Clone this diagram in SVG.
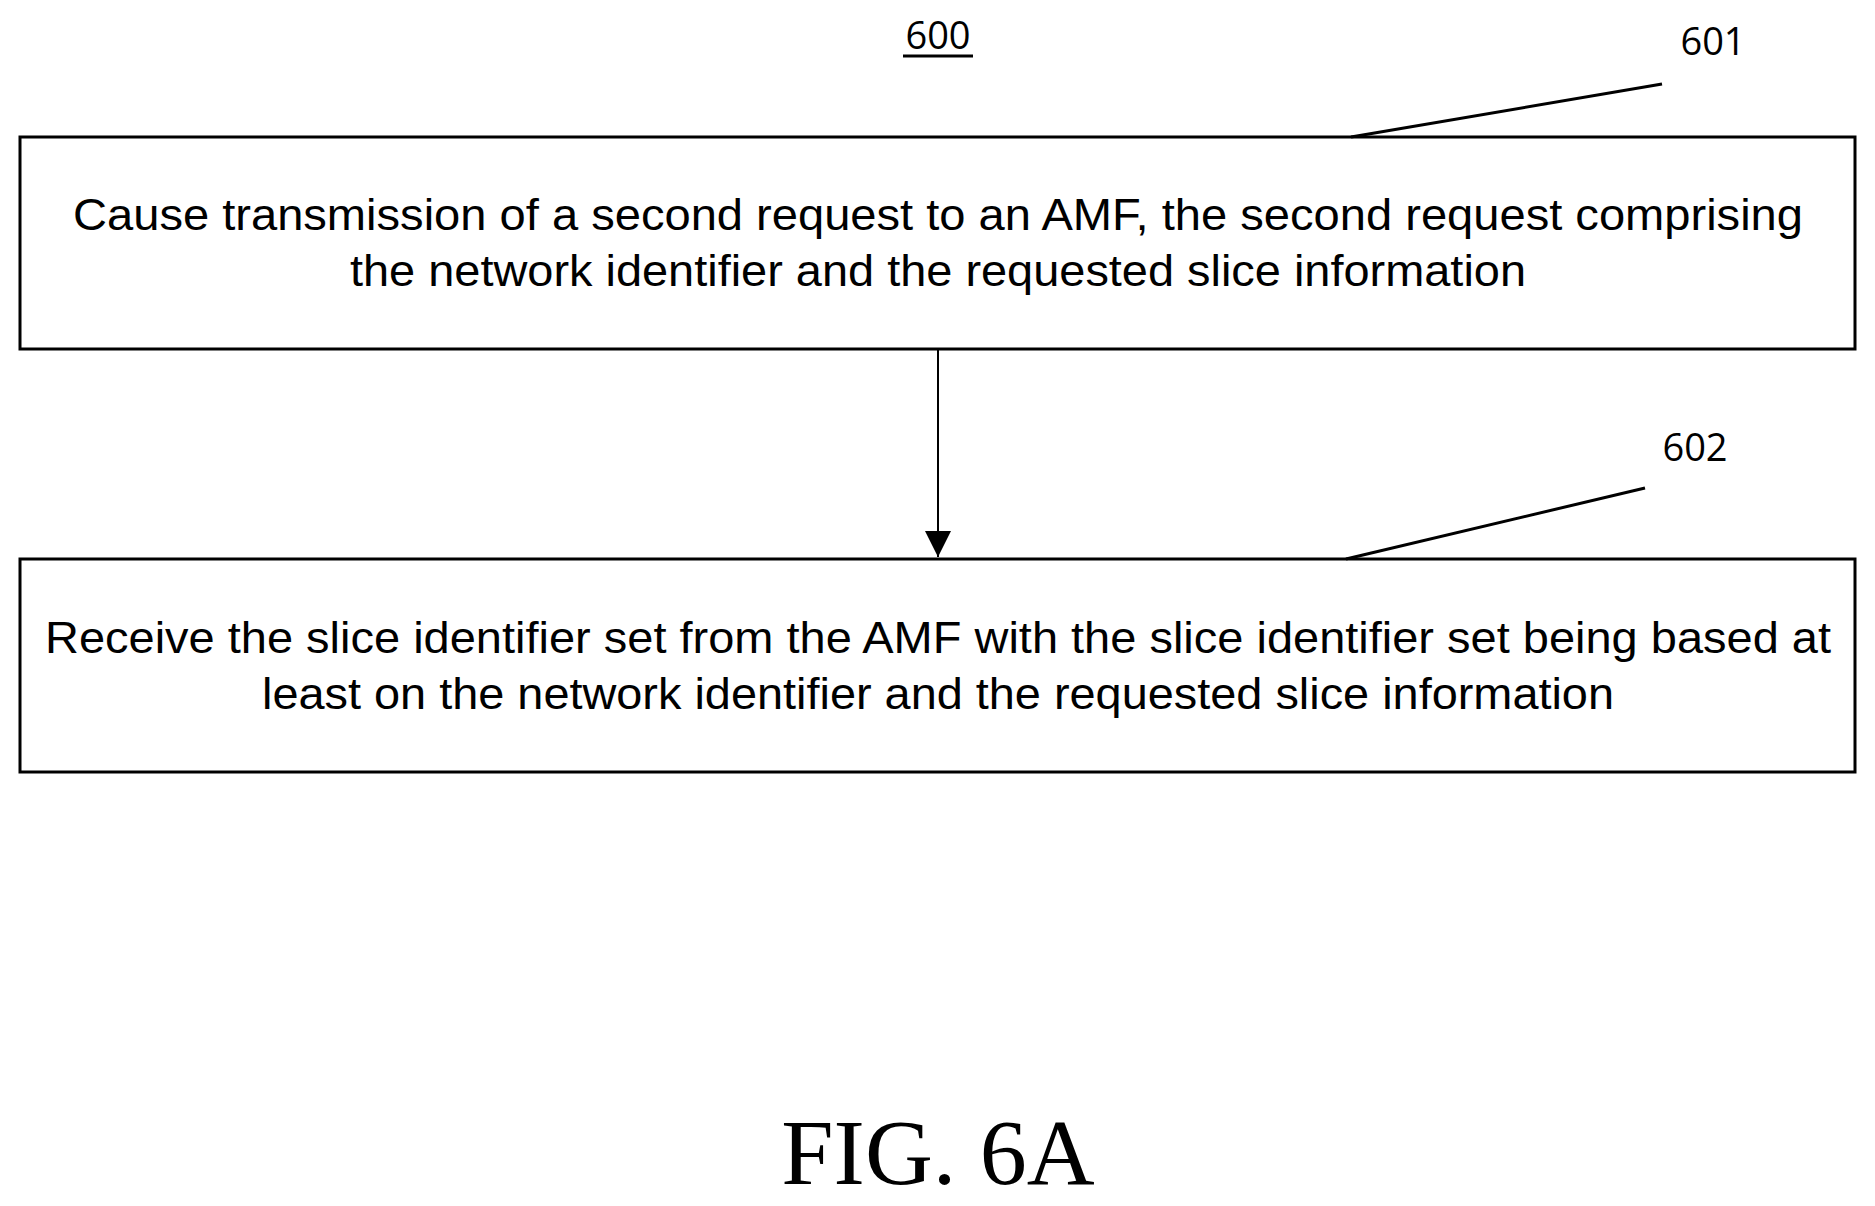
<svg xmlns="http://www.w3.org/2000/svg" width="1875" height="1206" viewBox="0 0 1875 1206">
<style>
.box{fill:#fff;stroke:#000;stroke-width:3}
.t{font-family:"Liberation Sans",Arial,sans-serif;font-size:44px;text-anchor:middle;fill:#000}
.lbl{font-family:"Open Sans","Liberation Sans",sans-serif;font-size:38px;text-anchor:middle;fill:#000}
.ln{stroke:#000;stroke-width:3;fill:none}
</style>
<defs>
<marker id="a" markerWidth="26" markerHeight="40" refX="26" refY="13" orient="auto" markerUnits="userSpaceOnUse"><path d="M0,0 L26,13 L0,26 Z" fill="#000"/></marker></defs>
<rect width="1875" height="1206" fill="#fff"/>
<g id="title"><text class="lbl" x="938" y="49">600</text><line class="ln" x1="903" y1="56" x2="973" y2="56" stroke-width="2"/></g>
<g id="n601">
<rect class="box" x="20" y="137" width="1835" height="212"/>
<text class="t" x="938" y="230" textLength="1730" lengthAdjust="spacingAndGlyphs">Cause transmission of a second request to an AMF, the second request comprising</text>
<text class="t" x="938" y="286" textLength="1176" lengthAdjust="spacingAndGlyphs">the network identifier and the requested slice information</text>
<text class="lbl" x="1713" y="55">601</text>
<line class="ln" x1="1351" y1="137" x2="1662" y2="84"/>
</g>
<g id="n602">
<rect class="box" x="20" y="559" width="1835" height="213"/>
<text class="t" x="938" y="653" textLength="1786" lengthAdjust="spacingAndGlyphs">Receive the slice identifier set from the AMF with the slice identifier set being based at</text>
<text class="t" x="938" y="709" textLength="1352" lengthAdjust="spacingAndGlyphs">least on the network identifier and the requested slice information</text>
<text class="lbl" x="1695" y="461">602</text>
<line class="ln" x1="1346" y1="559" x2="1645" y2="488"/>
</g>
<g id="connectors"><line x1="938" y1="349" x2="938" y2="557" stroke="#000" stroke-width="2" marker-end="url(#a)"/></g>
<text x="938" y="1184" style="font-family:'Liberation Serif',serif;font-size:94px;text-anchor:middle">FIG. 6A</text>
</svg>
